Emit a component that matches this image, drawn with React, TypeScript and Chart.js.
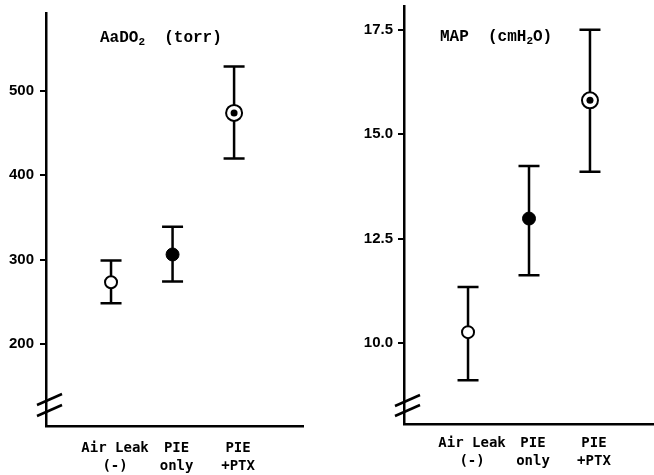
import React, { useEffect, useRef } from 'react';
import { Chart, registerables } from 'chart.js';

Chart.register(...registerables);

// ---- data ----
const categories: string[][] = [['Air Leak', '(-)'], ['PIE', 'only'], ['PIE', '+PTX']];
const aado2Mean = [273, 306, 474];
const aado2Low = [248, 274, 420];
const aado2High = [299, 339, 529];
const aado2Ticks = [200, 300, 400, 500];
const mapMean = [10.26, 12.98, 15.81];
const mapLow = [9.11, 11.62, 14.1];
const mapHigh = [11.34, 14.24, 17.5];
const mapTicks = [10.0, 12.5, 15.0, 17.5];

type Panel = {
  means: number[];
  lows: number[];
  highs: number[];
  ticks: number[];
  decimals: number;
  yMin: number;
  yMax: number;
  xMin: number;
  xMax: number;
  width: number;
  padTop: number;
  padRight: number;
  yAxisWidth: number;
  xAxisHeight: number;
  labelPad: number;
  yLabelPad: number;
  title: { t: string; sub: boolean }[];
  titleX: number;
  titleY: number;
  breakDy: [number, number];
};

const panels: Panel[] = [
  {
    means: aado2Mean, lows: aado2Low, highs: aado2High, ticks: aado2Ticks, decimals: 0,
    yMin: 102.5, yMax: 592.5, xMin: -0.057, xMax: 4.12,
    width: 330, padTop: 13, padRight: 27, yAxisWidth: 46, xAxisHeight: 49,
    labelPad: 13, yLabelPad: 6,
    title: [{ t: 'AaDO', sub: false }, { t: '2', sub: true }, { t: '  (torr)', sub: false }],
    titleX: 100, titleY: 38, breakDy: [10, 21],
  },
  {
    means: mapMean, lows: mapLow, highs: mapHigh, ticks: mapTicks, decimals: 1,
    yMin: 8.06, yMax: 18.07, xMin: -0.05, xMax: 4.05,
    width: 324, padTop: 6, padRight: 0, yAxisWidth: 74, xAxisHeight: 51,
    labelPad: 10, yLabelPad: 5,
    title: [{ t: 'MAP  (cmH', sub: false }, { t: '2', sub: true }, { t: 'O)', sub: false }],
    titleX: 110, titleY: 37, breakDy: [8, 18],
  },
];

function makeExtras(p: Panel) {
  return {
    id: 'extras',
    beforeDatasetsDraw(chart: any) {
      const { ctx, scales } = chart;
      const x = scales.x, y = scales.y;
      const cap = 10.5;
      ctx.save();
      ctx.strokeStyle = '#000';
      ctx.lineWidth = 2.5;
      p.lows.forEach((lo, i) => {
        const px = x.getPixelForValue(i + 1);
        const pl = y.getPixelForValue(lo);
        const ph = y.getPixelForValue(p.highs[i]);
        ctx.beginPath();
        ctx.moveTo(px, pl); ctx.lineTo(px, ph);
        ctx.moveTo(px - cap, pl); ctx.lineTo(px + cap, pl);
        ctx.moveTo(px - cap, ph); ctx.lineTo(px + cap, ph);
        ctx.stroke();
      });
      ctx.restore();
    },
    afterDraw(chart: any) {
      const { ctx, chartArea } = chart;
      ctx.save();
      // axis break marks
      ctx.strokeStyle = '#000';
      ctx.lineWidth = 2.5;
      const lx = chartArea.left, b = chartArea.bottom;
      for (const d of p.breakDy) {
        ctx.beginPath();
        ctx.moveTo(lx - 9, b - d);
        ctx.lineTo(lx + 16, b - d - 11);
        ctx.stroke();
      }
      // title with subscript
      ctx.fillStyle = '#000';
      ctx.textBaseline = 'middle';
      ctx.textAlign = 'left';
      let cx = p.titleX;
      for (const part of p.title) {
        ctx.font = part.sub ? 'bold 11px "Liberation Mono"' : 'bold 16px "Liberation Mono"';
        ctx.fillText(part.t, cx, p.titleY + (part.sub ? 4 : 0));
        cx += ctx.measureText(part.t).width;
      }
      ctx.restore();
    },
  };
}

function PanelChart({ p, left }: { p: Panel; left: number }) {
  const ref = useRef<HTMLCanvasElement | null>(null);
  useEffect(() => {
    if (!ref.current) return;
    const pts = p.means.map((m, i) => ({ x: i + 1, y: m }));
    const chart = new Chart(ref.current, {
      type: 'scatter',
      data: {
        datasets: [
          {
            data: pts,
            pointStyle: 'circle',
            pointRadius: [0, 0, 3.5],
            pointHoverRadius: [0, 0, 3.5],
            pointBackgroundColor: '#000',
            pointBorderColor: '#000',
            pointBorderWidth: 0,
            showLine: false,
          },
          {
            data: pts,
            pointStyle: 'circle',
            pointRadius: [6, 6.5, 8],
            pointHoverRadius: [6, 6.5, 8],
            pointBackgroundColor: ['#fff', '#000', '#fff'],
            pointBorderColor: '#000',
            pointBorderWidth: [2, 1, 2],
            showLine: false,
          },
        ],
      },
      options: {
        animation: false,
        responsive: false,
        events: [],
        layout: { autoPadding: false, padding: { top: p.padTop, right: p.padRight, left: 0, bottom: 0 } },
        plugins: { legend: { display: false }, tooltip: { enabled: false }, title: { display: false } },
        scales: {
          x: {
            type: 'linear',
            min: p.xMin,
            max: p.xMax,
            afterBuildTicks: (s: any) => { s.ticks = categories.map((_, i) => ({ value: i + 1 })); },
            afterFit: (s: any) => {
              s.height = p.xAxisHeight;
              s.paddingLeft = 0; s.paddingRight = 0; s.paddingTop = 0; s.paddingBottom = 0;
            },
            grid: { display: true, drawOnChartArea: false, drawTicks: false },
            border: { display: true, color: '#000', width: 2.5 },
            ticks: {
              autoSkip: false,
              maxRotation: 0,
              padding: p.labelPad,
              labelOffset: 4,
              color: '#000',
              font: { family: '"DejaVu Sans Mono"', size: 14, weight: 'bold', lineHeight: 1.3 },
              callback: (v: any) => categories[Math.round(Number(v)) - 1] ?? '',
            },
          },
          y: {
            type: 'linear',
            min: p.yMin,
            max: p.yMax,
            afterBuildTicks: (s: any) => { s.ticks = p.ticks.map((v) => ({ value: v })); },
            afterFit: (s: any) => {
              s.width = p.yAxisWidth;
              s.paddingLeft = 0; s.paddingRight = 0; s.paddingTop = 0; s.paddingBottom = 0;
            },
            grid: { display: true, drawOnChartArea: false, drawTicks: true, tickLength: 6, color: '#000', lineWidth: 2 },
            border: { display: true, color: '#000', width: 2.5 },
            ticks: {
              padding: p.yLabelPad,
              color: '#000',
              font: { family: '"Liberation Sans"', size: 15, weight: 'bold' },
              callback: (v: any) => Number(v).toFixed(p.decimals),
            },
          },
        },
      },
      plugins: [makeExtras(p)],
    } as any);
    return () => chart.destroy();
  }, [p]);
  return (
    <div style={{ position: 'absolute', left, top: 0, width: p.width, height: 475 }}>
      <canvas ref={ref} width={p.width} height={475} style={{ display: 'block' }} />
    </div>
  );
}

export default function App() {
  return (
    <div style={{ position: 'fixed', left: 0, top: 0, width: 654, height: 475, background: '#fff', overflow: 'hidden' }}>
      <PanelChart p={panels[0]} left={0} />
      <PanelChart p={panels[1]} left={330} />
    </div>
  );
}
